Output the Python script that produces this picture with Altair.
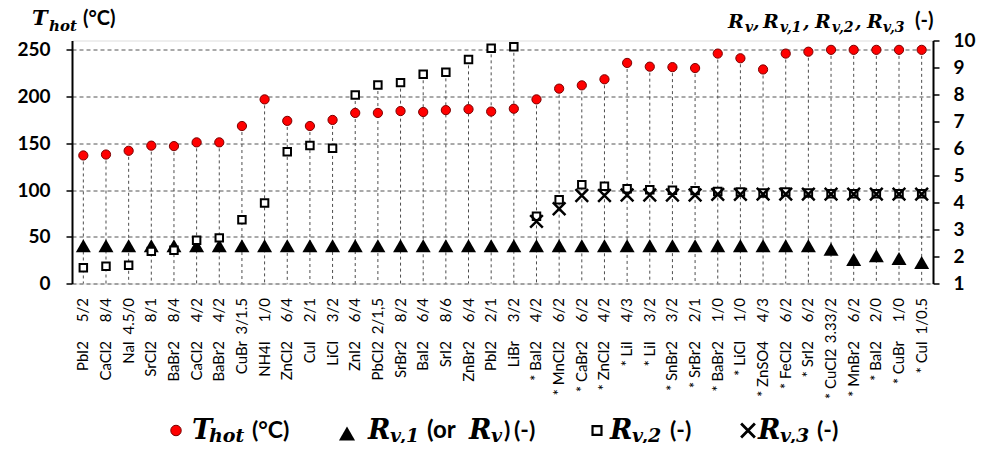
import altair as alt
import pandas as pd

# ---------------- data ----------------
names = ["PbI2", "CaCl2", "NaI", "SrCl2", "BaBr2", "CaCl2", "BaBr2", "CuBr", "NH4I", "ZnCl2",
         "CuI", "LiCl", "ZnI2", "PbCl2", "SrBr2", "BaI2", "SrI2", "ZnBr2", "PbI2", "LiBr",
         "* BaI2", "* MnCl2", "* CaBr2", "* ZnCl2", "* LiI", "* LiI", "* SnBr2", "* SrBr2",
         "* BaBr2", "* LiCl", "* ZnSO4", "* FeCl2", "* SrI2", "* CuCl2", "* MnBr2", "* BaI2",
         "* CuBr", "* CuI"]
ratios = ["5/2", "8/4", "4.5/0", "8/1", "8/4", "4/2", "4/2", "3/1.5", "1/0", "6/4",
          "2/1", "3/2", "6/4", "2/1,5", "8/2", "6/4", "8/6", "6/4", "2/1", "3/2",
          "4/2", "6/2", "6/2", "4/2", "4/3", "3/2", "3/2", "2/1",
          "1/0", "1/0", "4/3", "6/2", "6/2", "3.33/2", "6/2", "2/0",
          "1/0", "1/0.5"]
t_hot = [137, 138, 142, 147.5, 147, 151, 151, 168.5, 197, 174,
         168.5, 175, 182.5, 182.5, 184.5, 183.5, 185.5, 186.5, 184, 187,
         197, 208.5, 212, 218.5, 236, 232, 231.5, 230.5, 246, 241,
         229, 246, 248, 250, 250, 250, 250, 250]
rv1 = [2.4] * 33 + [2.27, 1.89, 2.03, 1.93, 1.78]
rv2 = [1.58, 1.64, 1.68, 2.19, 2.23, 2.6, 2.69, 3.36, 3.98, 5.88,
       6.11, 6.01, 7.98, 8.35, 8.44, 8.75, 8.82, 9.30, 9.71, 9.77,
       3.49, 4.10, 4.66, 4.60, 4.51, 4.47, 4.45, 4.44, 4.41, 4.39,
       4.35, 4.39, 4.35, 4.32, 4.32, 4.32, 4.32, 4.32]
rv3 = [None] * 20 + [3.30, 3.77, 4.26, 4.26, 4.28, 4.28, 4.28, 4.28, 4.30, 4.30,
                     4.31, 4.31, 4.31, 4.31, 4.31, 4.31, 4.31, 4.31]

left_ticks = [0, 50, 100, 150, 200, 250]
right_ticks = [1, 2, 3, 4, 5, 6, 7, 8, 9, 10]
LEFT_MAX, RIGHT_MIN, RIGHT_MAX = 260, 1, 10

# ---------------- layout ----------------
W, H = 861, 243
X0, Y0 = 72, 40.5          # absolute position of plot origin on the page
SVG_W, SVG_H = 968, 435    # keep the page from overflowing
PAD = {"left": X0 - 8, "top": Y0 - 8,
       "right": SVG_W - (X0 - 8) - W, "bottom": SVG_H - (Y0 - 8) - H}

MATH = "DejaVu Serif"
PLAIN = "Lato"

df = pd.DataFrame({"name": names, "ratio": ratios, "t_hot": t_hot,
                   "rv1": rv1, "rv2": rv2, "rv3": rv3})
df["key"] = [f"{i:02d}|{n}|{r}" for i, (n, r) in enumerate(zip(names, ratios))]
df["rv2_left"] = (df["rv2"] - RIGHT_MIN) * LEFT_MAX / (RIGHT_MAX - RIGHT_MIN)
df["drop_top"] = df[["t_hot", "rv2_left"]].max(axis=1)
df["zero"] = 0
df["name_y"] = [max(341.0, 298 + len(r) * 7.6 + 5) - Y0 for r in ratios]

left_scale = alt.Scale(domain=[0, LEFT_MAX], nice=False, zero=True)
right_scale = alt.Scale(domain=[RIGHT_MIN, RIGHT_MAX], nice=False, zero=False)
x_scale = alt.Scale(type="band", paddingInner=0, paddingOuter=0)

X_axis = alt.X("key:N", sort=None, scale=x_scale,
               axis=alt.Axis(orient="bottom", labels=False, ticks=True, tickBand="extent",
                             tickSize=7, tickColor="black", tickWidth=1.5,
                             domain=True, domainColor="black", domainWidth=2,
                             grid=False, title=None))
X_plain = alt.X("key:N", sort=None, scale=x_scale, axis=None)

axis_common = dict(domainColor="black", domainWidth=2, tickColor="black", tickSize=6,
                   tickWidth=1.5, labelFont=PLAIN, labelFontWeight="bold",
                   labelFontSize=19, labelColor="black", title=None)
left_axis = alt.Axis(orient="left", values=left_ticks, grid=True, gridDash=[4, 3],
                     gridColor="#555555", gridWidth=1, labelPadding=16, **axis_common)
right_axis = alt.Axis(orient="right", values=right_ticks, grid=False, labelPadding=14,
                      **axis_common)

base = alt.Chart(df)

drops = base.mark_rule(strokeDash=[3, 3], color="#4d4d4d", strokeWidth=1).encode(
    x=X_axis,
    y=alt.Y("drop_top:Q", scale=left_scale, axis=left_axis),
    y2="zero:Q",
)
thot_pts = base.mark_point(shape="circle", filled=True, fill="#ff0000", stroke="#7a0000",
                           strokeWidth=1, size=85, opacity=1).encode(
    x=X_plain, y=alt.Y("t_hot:Q", scale=left_scale, axis=None))
rv1_pts = base.mark_point(shape="triangle-up", filled=True, color="black", size=225,
                          opacity=1).encode(
    x=X_plain, y=alt.Y("rv1:Q", scale=right_scale, axis=right_axis))
rv2_pts = base.mark_point(shape="square", filled=True, fill="white", stroke="black",
                          strokeWidth=2, size=56, opacity=1).encode(
    x=X_plain, y=alt.Y("rv2:Q", scale=right_scale, axis=None))
rv3_pts = base.mark_point(shape="M-1,-1L1,1M-1,1L1,-1", filled=False, stroke="black",
                          strokeWidth=2.5, size=160, opacity=1).encode(
    x=X_plain, y=alt.Y("rv3:Q", scale=right_scale, axis=None))

ratio_lbl = base.mark_text(angle=270, align="right", baseline="middle", font=PLAIN,
                           fontSize=15, color="black").encode(
    x=X_plain, y=alt.value(298 - Y0), text="ratio:N")
name_lbl = base.mark_text(angle=270, align="right", baseline="middle", font=PLAIN,
                          fontSize=15, color="black").encode(
    x=X_plain, y=alt.Y("name_y:Q", scale=None), text="name:N")

# ---------------- titles & legend text pieces (absolute page px) ----------------
LB, LS = 438.5, 441.5   # legend main / subscript baselines
pieces = [
    # left axis title
    ("T", 32, 25, 21, "m"), ("hot", 49, 31, 15, "m"), ("(°C)", 83, 25, 20, "p"),
    # right axis title
    ("R", 728, 28, 19, "m"), ("v", 745, 32, 14, "m"), (",", 753, 28, 19, "m"),
    ("R", 763, 28, 19, "m"), ("v,1", 780, 32, 14, "m"), (",", 803, 28, 19, "m"),
    ("R", 815, 28, 19, "m"), ("v,2", 832, 32, 14, "m"), (",", 855, 28, 19, "m"),
    ("R", 867, 28, 19, "m"), ("v,3", 883, 32, 14, "m"), ("(-)", 915, 27, 20, "p"),
    # legend
    ("T", 192, LB, 27, "m"), ("hot", 209, LS, 19, "m"), ("(°C)", 252, LB - 1, 23, "p"),
    ("R", 368, LB, 27, "m"), ("v,1", 390, LS, 19, "m"), ("(or", 427, LB - 1, 24, "p"),
    ("R", 469, LB, 27, "m"), ("v", 491, LS, 19, "m"), (")", 504, LB - 1, 23, "p"),
    ("(-)", 514, LB - 1, 23, "p"),
    ("R", 610, LB, 27, "m"), ("v,2", 632, LS, 19, "m"), ("(-)", 670, LB - 1, 23, "p"),
    ("R", 758, LB, 27, "m"), ("v,3", 780, LS, 19, "m"), ("(-)", 817, LB - 1, 23, "p"),
]
tp = pd.DataFrame(pieces, columns=["text", "x", "y", "size", "kind"])
tp["x"] = tp["x"] - X0
tp["y"] = tp["y"] - Y0


def text_layer(kind, font, italic):
    kw = dict(font=font, fontWeight="bold", align="left", baseline="alphabetic", color="black")
    if italic:
        kw["fontStyle"] = "italic"
    return alt.Chart(tp[tp["kind"] == kind]).mark_text(**kw).encode(
        x=alt.X("x:Q", scale=None), y=alt.Y("y:Q", scale=None),
        size=alt.Size("size:Q", scale=None, legend=None), text="text:N")


math_txt = text_layer("m", MATH, True)
plain_txt = text_layer("p", PLAIN, False)

LM = LB - 8  # legend marker centre
one = pd.DataFrame({"a": [0]})
leg_circle = alt.Chart(one).mark_point(shape="circle", filled=True, fill="#ff0000",
                                       stroke="#7a0000", strokeWidth=1, size=110, opacity=1).encode(
    x=alt.value(176 - X0), y=alt.value(LM - Y0))
leg_tri = alt.Chart(one).mark_point(shape="triangle-up", filled=True, color="black",
                                    size=260, opacity=1).encode(
    x=alt.value(347 - X0), y=alt.value(LM + 3 - Y0))
leg_sq = alt.Chart(one).mark_point(shape="square", filled=True, fill="white", stroke="black",
                                   strokeWidth=2.2, size=80, opacity=1).encode(
    x=alt.value(597 - X0), y=alt.value(LM - Y0))
leg_x = alt.Chart(one).mark_point(shape="M-1,-1L1,1M-1,1L1,-1", filled=False, stroke="black",
                                  strokeWidth=2.8, size=190, opacity=1).encode(
    x=alt.value(748 - X0), y=alt.value(LM - Y0))

chart = alt.layer(
    drops, thot_pts, rv1_pts, rv2_pts, rv3_pts, ratio_lbl, name_lbl,
    math_txt, plain_txt, leg_circle, leg_tri, leg_sq, leg_x,
).resolve_scale(y="independent").properties(
    width=W, height=H, padding=PAD, autosize=alt.AutoSizeParams(type="none"),
).configure_view(stroke="black", strokeWidth=1.5).configure(background="white")

chart.save("out.html", embed_options={"renderer": "svg", "actions": False})
